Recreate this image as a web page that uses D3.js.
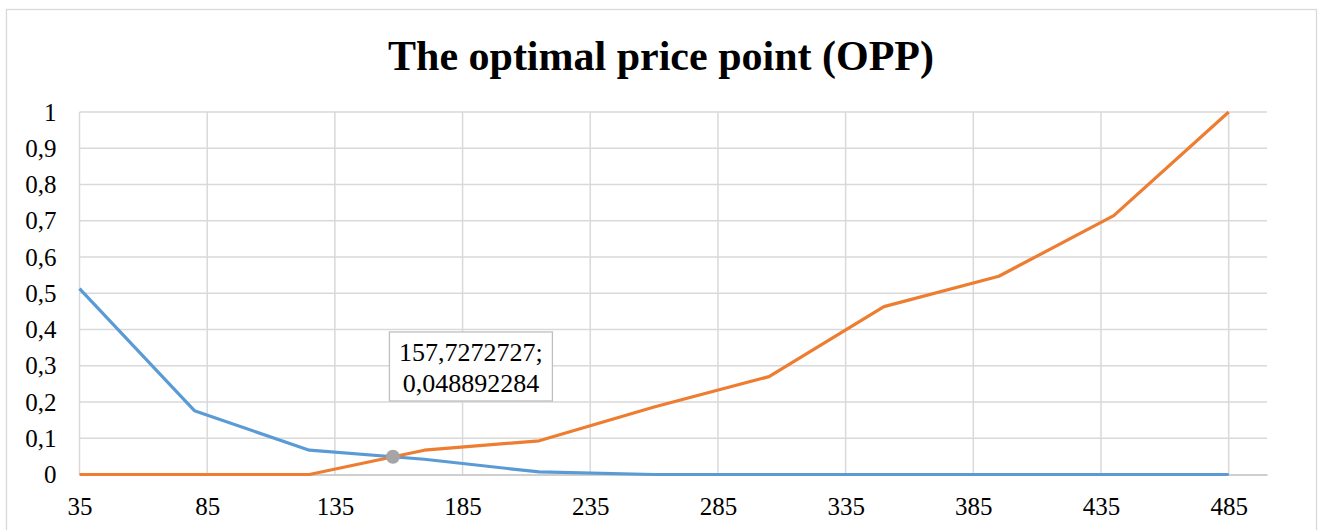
<!DOCTYPE html>
<html>
<head>
<meta charset="utf-8">
<script src="https://cdn.jsdelivr.net/npm/d3@7"></script>
<style>
  body { margin: 0; background: #fff; }
  text { font-family: "Liberation Serif", "Times New Roman", serif; }
</style>
</head>
<body>
<div id="chart"></div>
<script>
var width = 1319,
    height = 530;

// prices and shares
var prices = [35, 80, 125, 170, 215, 260, 305, 350, 395, 440, 485];
var tooCheap = [0.513, 0.176, 0.067, 0.042, 0.007, 0, 0, 0, 0, 0, 0];
var tooExpensive = [0, 0, 0, 0.067, 0.093, 0.186, 0.27, 0.463, 0.547, 0.714, 1];
var xTicks = [35, 85, 135, 185, 235, 285, 335, 385, 435, 485];
var yTicks = [0, 0.1, 0.2, 0.3, 0.4, 0.5, 0.6, 0.7, 0.8, 0.9, 1];
var opp = [157.7272727, 0.048892284];
var oppLabel = ["157,7272727;", "0,048892284"];

var blue = "#5b9bd5",
    orange = "#ed7d31",
    grid = "#d9d9d9";

var x = d3.scaleLinear().domain([35, 500]).range([79.5, 1267]);
var y = d3.scaleLinear().domain([0, 1]).range([474.5, 112]);

var svg = d3.select("#chart").append("svg")
    .attr("width", width)
    .attr("height", height);

// chart border
svg.append("rect")
    .attr("x", 6.5).attr("y", 9.5)
    .attr("width", 1310).attr("height", 540)
    .attr("fill", "#fff")
    .attr("stroke", grid)
    .attr("stroke-width", 1.3);

svg.append("text")
    .attr("x", 661).attr("y", 70)
    .attr("text-anchor", "middle")
    .style("font-size", "42px")
    .style("font-weight", "bold")
    .text("The optimal price point (OPP)");

// gridlines
svg.append("g")
    .selectAll("line")
    .data(yTicks.slice(1))
  .enter().append("line")
    .attr("x1", x(35)).attr("x2", x(500))
    .attr("y1", function(d) { return y(d); })
    .attr("y2", function(d) { return y(d); })
    .attr("stroke", grid)
    .attr("stroke-width", 1.5);

svg.append("g")
    .selectAll("line")
    .data(xTicks)
  .enter().append("line")
    .attr("x1", function(d) { return x(d); })
    .attr("x2", function(d) { return x(d); })
    .attr("y1", y(0)).attr("y2", y(1))
    .attr("stroke", grid)
    .attr("stroke-width", 1.5);

var xAxis = svg.append("g")
    .attr("transform", "translate(0," + y(0) + ")")
    .call(d3.axisBottom(x).tickValues(xTicks).tickSize(0).tickPadding(23)
      .tickFormat(function(d) { return d; }));
xAxis.select(".domain").attr("stroke", "#bfbfbf").attr("stroke-width", 1.5);
xAxis.selectAll("text")
    .style("font-size", "25px")
    .style("font-family", "Liberation Serif")
    .attr("fill", "#000");

var yAxis = svg.append("g")
    .attr("transform", "translate(" + x(35) + ",0)")
    .call(d3.axisLeft(y).tickValues(yTicks).tickSize(0).tickPadding(23)
      .tickFormat(function(d) { return String(d3.format("~g")(d)).replace(".", ","); }));
yAxis.select(".domain").remove();
yAxis.selectAll("text")
    .style("font-size", "25px")
    .style("font-family", "Liberation Serif")
    .attr("fill", "#000");

var line = d3.line()
    .x(function(d) { return x(d[0]); })
    .y(function(d) { return y(d[1]); });

svg.append("path")
    .datum(d3.zip(prices, tooCheap))
    .attr("d", line)
    .attr("fill", "none")
    .attr("stroke", blue)
    .attr("stroke-width", 3.2)
    .attr("stroke-linejoin", "round");

svg.append("path")
    .datum(d3.zip(prices, tooExpensive))
    .attr("d", line)
    .attr("fill", "none")
    .attr("stroke", orange)
    .attr("stroke-width", 3.2)
    .attr("stroke-linejoin", "round");

svg.append("circle")
    .attr("cx", x(opp[0])).attr("cy", y(opp[1]))
    .attr("r", 7)
    .attr("fill", "#a5a5a5");

// data label box
var lx = x(opp[0]) - 3.5, ly = 332;
svg.append("rect")
    .attr("x", lx).attr("y", ly)
    .attr("width", 163).attr("height", 69)
    .attr("fill", "#fff")
    .attr("stroke", "#bfbfbf")
    .attr("stroke-width", 1.3);

svg.append("g")
    .selectAll("text")
    .data(oppLabel)
  .enter().append("text")
    .attr("x", lx + 81.5)
    .attr("y", function(d, i) { return ly + 29 + i * 31; })
    .attr("text-anchor", "middle")
    .style("font-size", "26px")
    .text(function(d) { return d; });
</script>
</body>
</html>
